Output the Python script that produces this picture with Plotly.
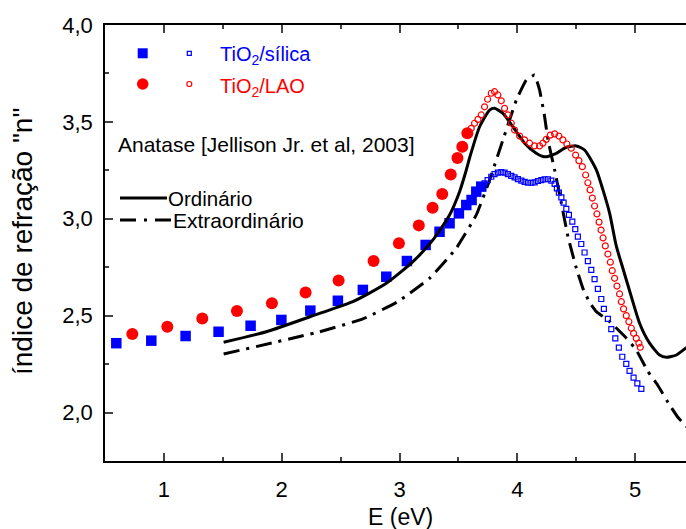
import plotly.graph_objects as go

# ---------------- data ----------------
silica_bulk_E = [0.596, 0.893, 1.184, 1.464, 1.736, 1.997, 2.243, 2.477, 2.689, 2.888,
                 3.063, 3.222, 3.340, 3.425, 3.504, 3.567, 3.612, 3.652, 3.694]
silica_bulk_n = [2.358, 2.371, 2.395, 2.417, 2.448, 2.478, 2.526, 2.577, 2.633, 2.701,
                 2.782, 2.865, 2.933, 2.977, 3.028, 3.071, 3.097, 3.140, 3.166]

silica_fit_E = [3.722, 3.748, 3.779, 3.807, 3.835, 3.864, 3.892, 3.920, 3.949, 3.977,
                4.005, 4.034, 4.062, 4.090, 4.119, 4.147, 4.175, 4.204, 4.232, 4.260,
                4.289, 4.317, 4.336, 4.353, 4.374, 4.393, 4.416, 4.438, 4.467, 4.492,
                4.514, 4.543, 4.571, 4.599, 4.628, 4.656, 4.684, 4.713, 4.735, 4.769,
                4.798, 4.832, 4.862, 4.891, 4.925, 4.953, 4.987, 5.019, 5.053]
silica_fit_n = [3.183, 3.200, 3.217, 3.230, 3.238, 3.241, 3.238, 3.231, 3.221, 3.214,
                3.205, 3.197, 3.190, 3.186, 3.186, 3.188, 3.195, 3.200, 3.204, 3.204,
                3.197, 3.180, 3.157, 3.135, 3.111, 3.083, 3.051, 3.020, 2.985, 2.947,
                2.908, 2.870, 2.826, 2.782, 2.736, 2.689, 2.638, 2.586, 2.535, 2.483,
                2.431, 2.383, 2.335, 2.288, 2.251, 2.215, 2.180, 2.151, 2.122]

lao_bulk_E = [0.732, 1.029, 1.326, 1.620, 1.917, 2.203, 2.483, 2.780, 2.995, 3.164,
              3.281, 3.363, 3.435, 3.492, 3.533, 3.576]
lao_bulk_n = [2.406, 2.443, 2.485, 2.524, 2.564, 2.619, 2.681, 2.782, 2.874, 2.966,
              3.057, 3.128, 3.228, 3.314, 3.372, 3.441]

lao_fit_E = [3.609, 3.637, 3.666, 3.694, 3.722, 3.748, 3.779, 3.807, 3.835, 3.864,
             3.892, 3.920, 3.949, 3.977, 4.020, 4.062, 4.104, 4.147, 4.189, 4.217,
             4.246, 4.280, 4.317, 4.353, 4.387, 4.421, 4.458, 4.495, 4.523, 4.552,
             4.580, 4.599, 4.618, 4.637, 4.656, 4.676, 4.694, 4.711, 4.728, 4.747,
             4.769, 4.790, 4.806, 4.826, 4.846, 4.868, 4.883, 4.902, 4.925, 4.947,
             4.968, 4.987, 5.010, 5.032, 5.044]
lao_fit_n = [3.467, 3.493, 3.513, 3.536, 3.578, 3.617, 3.648, 3.656, 3.639, 3.609,
             3.570, 3.536, 3.493, 3.458, 3.427, 3.407, 3.390, 3.376, 3.376, 3.390,
             3.410, 3.432, 3.438, 3.427, 3.407, 3.386, 3.364, 3.329, 3.300, 3.269,
             3.226, 3.186, 3.149, 3.107, 3.066, 3.025, 2.983, 2.942, 2.901, 2.860,
             2.818, 2.776, 2.732, 2.693, 2.653, 2.612, 2.572, 2.535, 2.500, 2.469,
             2.435, 2.409, 2.383, 2.358, 2.337]

ord_E = [1.507, 1.869, 2.322, 2.604, 2.888, 3.114, 3.284, 3.425, 3.510, 3.567, 3.595,
         3.680, 3.765, 3.807, 3.878, 3.963, 4.062, 4.161, 4.232, 4.331, 4.416, 4.501,
         4.571, 4.671, 4.727, 4.784, 4.840, 4.896, 4.968, 5.038, 5.123, 5.208, 5.265,
         5.350, 5.429, 5.50]
ord_n = [2.363, 2.417, 2.512, 2.572, 2.667, 2.779, 2.891, 3.020, 3.140, 3.252, 3.314,
         3.475, 3.561, 3.570, 3.544, 3.475, 3.390, 3.338, 3.320, 3.338, 3.369, 3.376,
         3.355, 3.252, 3.149, 3.028, 2.860, 2.745, 2.598, 2.461, 2.358, 2.297, 2.285,
         2.297, 2.332, 2.36]

ext_E = [1.507, 2.322, 2.689, 2.986, 3.255, 3.482, 3.652, 3.765, 3.878, 3.992, 4.076,
         4.147, 4.189, 4.232, 4.260, 4.317, 4.374, 4.430, 4.501, 4.557, 4.614, 4.671,
         4.784, 4.925, 5.010, 5.106, 5.191, 5.293, 5.361, 5.45]
ext_n = [2.302, 2.417, 2.483, 2.572, 2.693, 2.848, 3.020, 3.200, 3.407, 3.613, 3.716,
         3.742, 3.665, 3.527, 3.407, 3.252, 3.080, 2.908, 2.745, 2.641, 2.568, 2.521,
         2.469, 2.385, 2.323, 2.215, 2.142, 2.039, 1.977, 1.92]

x_tickvals = [1, 2, 3, 4, 5]
y_tickvals = [2.0, 2.5, 3.0, 3.5, 4.0]

# ---------------- styling / layout constants ----------------
W, H = 686, 529
L, T, R, B = 105, 25, 686, 461
BLUE = "#0000FF"
RED = "#FF0000"
FONT = "Liberation Sans, Arial, sans-serif"
DASHDOT = "16px,7px,3px,7px"

def px(x):
    return (x - L) / (R - L)

def py(y):
    return (B - y) / (B - T)

fig = go.Figure()

fig.add_trace(go.Scatter(x=silica_bulk_E, y=silica_bulk_n, mode="markers",
                         marker=dict(symbol="square", size=10.5, color=BLUE), showlegend=False))
fig.add_trace(go.Scatter(x=lao_bulk_E, y=lao_bulk_n, mode="markers",
                         marker=dict(symbol="circle", size=12, color=RED), showlegend=False))
fig.add_trace(go.Scatter(x=ord_E, y=ord_n, mode="lines",
                         line=dict(color="black", width=3, shape="spline", smoothing=0.6),
                         showlegend=False))
fig.add_trace(go.Scatter(x=ext_E, y=ext_n, mode="lines",
                         line=dict(color="black", width=3, dash=DASHDOT, shape="spline", smoothing=0.3),
                         showlegend=False))
fig.add_trace(go.Scatter(x=silica_fit_E, y=silica_fit_n, mode="markers",
                         marker=dict(symbol="square-open", size=5, color=BLUE, line=dict(width=1.2)),
                         showlegend=False))
fig.add_trace(go.Scatter(x=lao_fit_E, y=lao_fit_n, mode="markers",
                         marker=dict(symbol="circle-open", size=6, color=RED, line=dict(width=1.2)),
                         showlegend=False))

shapes = []
def rect(cx, cy, s, fill, line_w):
    shapes.append(dict(type="rect", xref="paper", yref="paper",
                       x0=px(cx - s / 2), x1=px(cx + s / 2), y0=py(cy + s / 2), y1=py(cy - s / 2),
                       fillcolor=fill if fill else "rgba(0,0,0,0)", line=dict(color=BLUE, width=line_w)))
def circ(cx, cy, s, fill, line_w):
    shapes.append(dict(type="circle", xref="paper", yref="paper",
                       x0=px(cx - s / 2), x1=px(cx + s / 2), y0=py(cy + s / 2), y1=py(cy - s / 2),
                       fillcolor=fill if fill else "rgba(0,0,0,0)", line=dict(color=RED, width=line_w)))

rect(142.7, 53.3, 10, BLUE, 0)
rect(189.3, 53.3, 4, None, 1.2)
circ(142.7, 84, 11.5, RED, 0)
circ(189.3, 84, 5, None, 1.2)
shapes.append(dict(type="line", xref="paper", yref="paper", x0=px(120), x1=px(167),
                   y0=py(198), y1=py(198), line=dict(color="black", width=3)))
shapes.append(dict(type="line", xref="paper", yref="paper", x0=px(120), x1=px(171),
                   y0=py(220), y1=py(220), line=dict(color="black", width=3, dash="16px,8px,3px,8px")))

def note(text, x, y, color="black", size=20, xanchor="left"):
    return dict(text=text, xref="paper", yref="paper", x=px(x), y=py(y), xanchor=xanchor,
                yanchor="middle", showarrow=False, font=dict(family=FONT, size=size, color=color))

annotations = [
    note("TiO<sub>2</sub>/sílica", 218, 56, BLUE),
    note("TiO<sub>2</sub>/LAO", 218, 87, RED),
    note("Anatase [Jellison Jr. et al, 2003]", 116, 144, size=21),
    note("Ordinário", 166, 198, size=20.5),
    note("Extraordinário", 171, 220, size=21),
    dict(text="E (eV)", xref="paper", yref="paper", x=px(400), y=py(517), xanchor="center",
         yanchor="middle", showarrow=False, font=dict(family=FONT, size=23, color="black")),
    dict(text='índice de refração "n"', xref="paper", yref="paper", x=px(23), y=py(242),
         xanchor="center", yanchor="middle", textangle=-90, showarrow=False,
         font=dict(family=FONT, size=28, color="black")),
]

fig.update_layout(
    width=W, height=H,
    margin=dict(l=L, r=W - R, t=T, b=H - B, pad=0),
    paper_bgcolor="white", plot_bgcolor="white",
    separators=",.",
    font=dict(family=FONT, color="black"),
    shapes=shapes, annotations=annotations,
)
fig.update_xaxes(range=[0.5, 0.5 + (R - L) / 117.8], tickvals=x_tickvals, ticks="inside",
                 ticklen=8, tickwidth=1.5, showline=True, linewidth=1.5, linecolor="black",
                 mirror="ticks", showgrid=False, zeroline=False,
                 tickfont=dict(family=FONT, size=22), ticklabelstandoff=8,
                 minor=dict(dtick=0.5, tick0=0.5, ticks="inside", ticklen=4, tickwidth=1.5, showgrid=False))
fig.update_yaxes(range=[1.75, 4.0001], tickvals=y_tickvals, tickformat=".1f", ticks="inside",
                 ticklen=8, tickwidth=1.5, showline=True, linewidth=1.5, linecolor="black",
                 mirror=False, showgrid=False, zeroline=False,
                 tickfont=dict(family=FONT, size=22), ticklabelstandoff=6,
                 minor=dict(dtick=0.25, tick0=0, ticks="inside", ticklen=4, tickwidth=1.5, showgrid=False))

fig.write_html("out.html")
